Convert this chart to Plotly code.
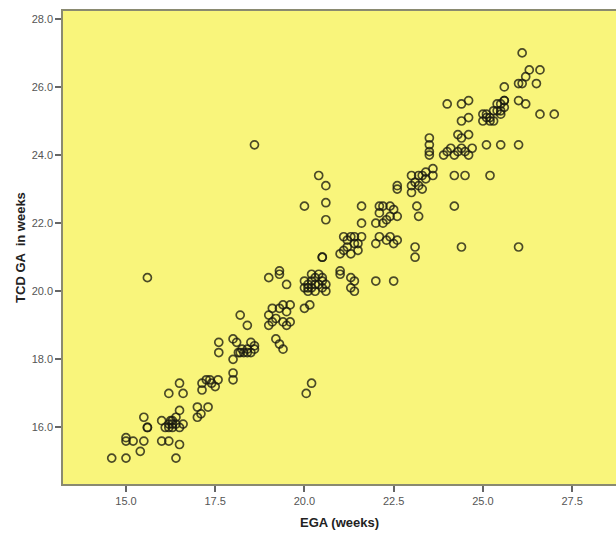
import plotly.graph_objects as go

# EGA (weeks) vs TCD GA in weeks
ega = [
    14.6, 15.0, 15.4, 15.0, 15.0, 15.2, 15.5, 15.5, 15.6, 15.6,
    16.0, 16.2, 16.5, 16.4, 16.0, 16.1, 16.2, 16.25, 16.3, 16.3,
    16.4, 16.4, 16.5, 16.6, 16.2, 16.3, 16.5, 16.2, 16.6, 16.5,
    17.0, 17.1, 17.3, 17.0, 17.13, 17.35, 17.58, 17.5, 17.13, 17.25,
    17.4, 17.6, 17.6, 18.0, 18.0, 18.0, 18.1, 18.0, 18.15, 18.25,
    18.3, 18.4, 18.5, 18.6, 18.2, 18.4, 18.5, 18.4, 18.2, 18.6,
    19.2, 19.3, 19.4, 19.0, 19.0, 19.1, 19.2, 19.3, 19.4, 19.5,
    19.5, 19.6, 19.1, 19.4, 19.6, 19.0, 19.3, 19.3, 19.5,
    20.0, 20.1, 20.1, 20.2, 20.2, 20.3, 20.3, 20.4, 20.4, 20.5,
    20.5, 20.6, 20.6, 20.2, 20.0, 20.15, 20.0, 20.1, 20.3, 20.5,
    20.05, 20.2, 15.6, 18.6, 20.5,
    20.4, 20.6, 20.0, 20.6, 20.6, 21.6, 21.6, 21.6, 21.1, 21.2,
    21.3, 21.4, 21.5, 21.2, 21.3, 21.4, 21.5, 21.1, 21.0, 20.5,
    21.0, 21.0, 21.3, 21.4, 21.3, 21.4, 22.0, 22.5,
    22.0, 22.1, 22.2, 22.3, 22.4, 22.5, 22.6, 22.2, 22.4, 22.1,
    22.0, 22.1, 22.3, 22.4, 22.5, 22.6, 23.1, 23.1,
    23.0, 23.1, 23.2, 23.3, 23.4, 23.0, 23.3, 23.2, 23.4, 23.0,
    23.15, 23.2, 22.6, 22.6, 23.5, 23.5, 23.5, 23.5, 23.6, 23.6,
    24.0, 24.4, 24.6, 24.4, 24.6, 24.3, 24.6, 24.4,
    23.9, 24.0, 24.1, 24.2, 24.3, 24.4, 24.5, 24.6, 24.7,
    25.0, 25.1, 25.2, 25.3, 25.0, 25.2, 25.4, 25.5, 25.6, 25.5,
    25.4, 25.6, 25.1, 25.3, 25.5, 25.6,
    25.1, 25.5, 26.0, 24.2, 24.5, 25.2, 24.2, 24.4, 26.0,
    26.1, 26.3, 26.6, 26.2, 26.0, 26.1, 26.5, 25.6, 26.0, 26.2,
    26.6, 27.0,
]
tcd = [
    15.1, 15.1, 15.3, 15.7, 15.6, 15.6, 15.6, 16.3, 16.0, 16.0,
    15.6, 15.6, 15.5, 15.1, 16.2, 16.0, 16.1, 16.2, 16.0, 16.2,
    16.1, 16.3, 16.0, 16.1, 16.0, 16.1, 16.5, 17.0, 17.0, 17.3,
    16.6, 16.4, 16.6, 16.3, 17.3, 17.4, 17.4, 17.2, 17.1, 17.4,
    17.3, 18.5, 18.2, 17.6, 17.4, 18.6, 18.5, 18.0, 18.2, 18.3,
    18.2, 18.3, 18.2, 18.3, 18.2, 18.2, 18.5, 19.0, 19.3, 18.4,
    18.6, 18.45, 18.3, 19.0, 19.3, 19.5, 19.2, 19.5, 19.1, 19.0,
    19.4, 19.6, 19.1, 19.6, 19.1, 20.4, 20.6, 20.5, 20.2,
    20.1, 20.2, 20.0, 20.3, 20.1, 20.4, 20.0, 20.2, 20.5, 20.1,
    20.4, 20.2, 20.0, 20.5, 20.3, 19.6, 19.5, 20.1, 20.2, 20.3,
    17.0, 17.3, 20.4, 24.3, 21.0,
    23.4, 23.1, 22.5, 22.6, 22.1, 22.5, 22.0, 21.6, 21.2, 21.5,
    21.6, 21.4, 21.2, 21.3, 21.1, 21.6, 21.4, 21.6, 21.1, 21.0,
    20.6, 20.5, 20.4, 20.3, 20.1, 20.0, 20.3, 20.3,
    22.0, 22.3, 22.5, 22.1, 22.5, 22.4, 22.2, 22.0, 22.2, 22.5,
    21.4, 21.6, 21.5, 21.6, 21.4, 21.5, 21.3, 21.0,
    22.9, 23.2, 23.4, 23.0, 23.5, 23.4, 23.4, 23.1, 23.3, 23.1,
    22.5, 22.2, 23.1, 23.0, 24.5, 24.3, 24.1, 24.0, 23.6, 23.4,
    25.5, 25.5, 25.6, 25.0, 25.1, 24.6, 24.6, 24.5,
    24.0, 24.1, 24.2, 24.0, 24.1, 24.2, 24.1, 24.0, 24.2,
    25.0, 25.2, 25.1, 25.3, 25.2, 25.0, 25.3, 25.5, 25.6, 25.2,
    25.5, 25.4, 25.1, 25.0, 25.3, 25.6,
    24.3, 24.3, 24.3, 23.4, 23.4, 23.4, 22.5, 21.3, 21.3,
    27.0, 26.5, 26.5, 26.3, 26.1, 26.1, 26.1, 26.0, 25.6, 25.5,
    25.2, 25.2,
]

x_ticks = [15.0, 17.5, 20.0, 22.5, 25.0, 27.5]
x_tick_labels = ["15.0", "17.5", "20.0", "22.5", "25.0", "27.5"]
y_ticks = [16.0, 18.0, 20.0, 22.0, 24.0, 26.0, 28.0]
y_tick_labels = ["16.0", "18.0", "20.0", "22.0", "24.0", "26.0", "28.0"]

fig = go.Figure()
fig.add_trace(go.Scatter(
    x=ega, y=tcd, mode="markers",
    marker=dict(symbol="circle-open", size=8, color="rgba(25,25,15,0.78)",
                line=dict(width=1.7, color="rgba(25,25,15,0.78)")),
    hoverinfo="x+y", showlegend=False,
))

axis_font = dict(family="Liberation Sans, Arial, sans-serif", size=11, color="#555555")
title_font = dict(family="Liberation Sans, Arial, sans-serif", size=13, color="#222222")
fig.update_layout(
    width=616, height=533,
    margin=dict(l=63, r=0, t=11, b=49, autoexpand=False),
    paper_bgcolor="white",
    plot_bgcolor="#F9F57B",
    xaxis=dict(
        range=[13.235, 28.73], tickvals=x_ticks, ticktext=x_tick_labels,
        showgrid=False, zeroline=False, showline=True, linecolor="#8a8a70",
        linewidth=1.5, mirror=True, ticks="outside", ticklen=6, tickwidth=1.5,
        tickcolor="#666666", tickfont=axis_font, automargin=False,
    ),
    yaxis=dict(
        range=[14.34, 28.23], tickvals=y_ticks, ticktext=y_tick_labels,
        showgrid=False, zeroline=False, showline=True, linecolor="#8a8a70",
        linewidth=1.5, ticks="outside", ticklen=6, tickwidth=1.5,
        tickcolor="#666666", tickfont=axis_font, automargin=False,
    ),
    annotations=[
        dict(text="<b>EGA (weeks)</b>", xref="paper", yref="paper",
             x=0.5, y=-0.082, xanchor="center", yanchor="middle",
             showarrow=False, font=title_font),
        dict(text="<b>TCD GA  in weeks</b>", xref="paper", yref="paper",
             x=-0.077, y=0.5, xanchor="center", yanchor="middle",
             textangle=-90, showarrow=False, font=title_font),
    ],
)

fig.write_html(
    "out.html",
    config={"displayModeBar": False},
    post_script="document.body.style.margin='0px';document.body.style.overflow='hidden';",
)
